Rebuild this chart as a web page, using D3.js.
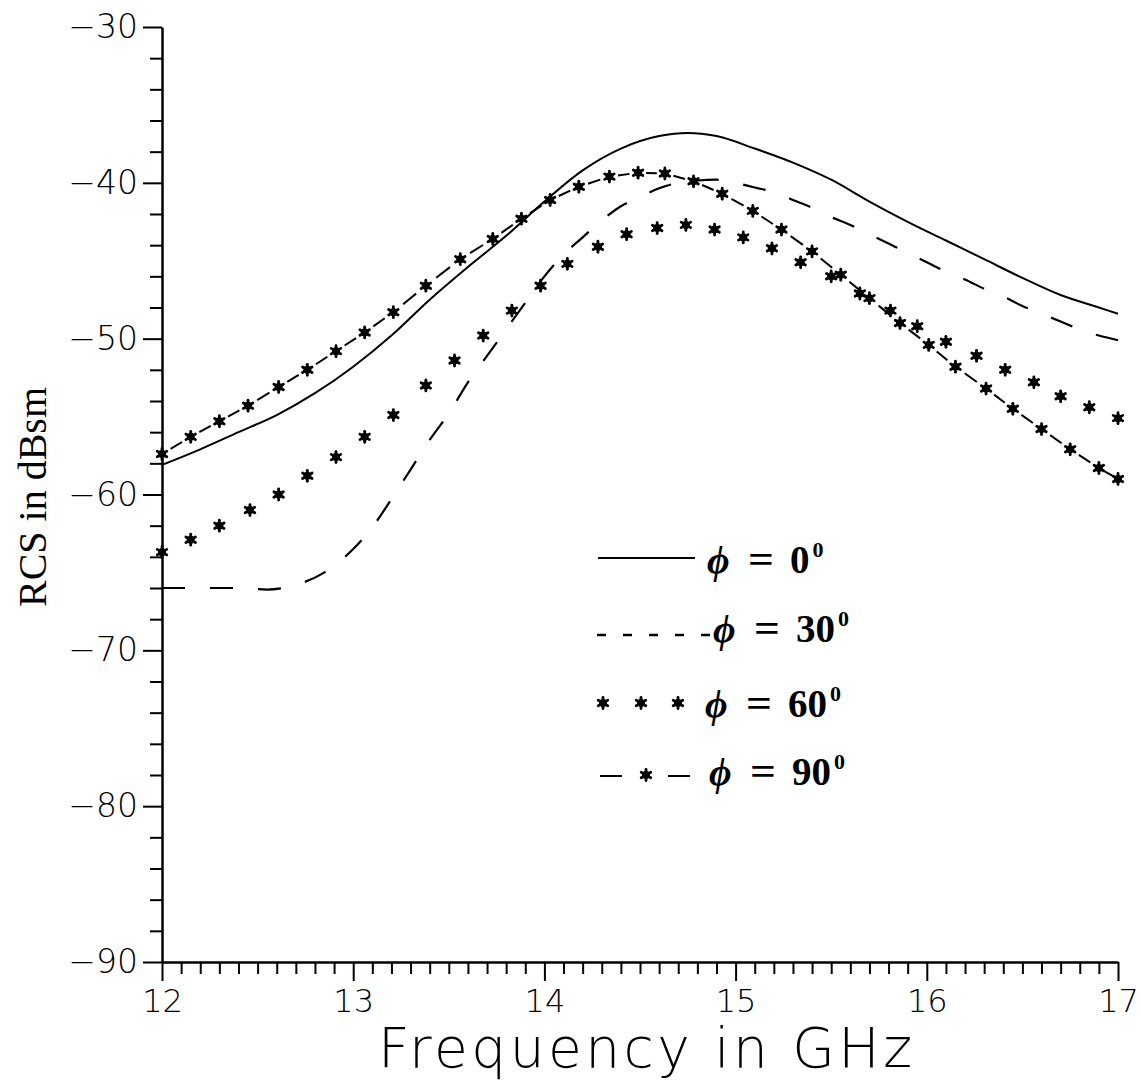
<!DOCTYPE html>
<html>
<head>
<meta charset="utf-8">
<script src="https://cdn.jsdelivr.net/npm/d3@7"></script>
<style>
  body { margin: 0; background: #fff; }
  svg { display: block; }
</style>
</head>
<body>
<script>
// ---------------- data ----------------
const yMajorTicks = [-90, -80, -70, -60, -50, -40, -30];
const xMajorTicks = [12, 13, 14, 15, 16, 17];
const xTitle = "Frequency in GHz";
const yTitle = "RCS in dBsm";

// phi = 0 (solid)
const freq0 = [12.0, 12.2, 12.4, 12.6, 12.8, 13.0, 13.2, 13.4, 13.6, 13.8, 14.0, 14.2, 14.4, 14.6, 14.75, 14.9, 15.1, 15.3, 15.5, 15.7, 15.9, 16.1, 16.3, 16.5, 16.7, 16.9, 17.0];
const rcs0  = [-58.1, -57.1, -56.0, -54.9, -53.5, -51.8, -49.8, -47.5, -45.4, -43.4, -41.2, -39.2, -37.8, -37.0, -36.8, -37.0, -37.8, -38.7, -39.8, -41.2, -42.5, -43.7, -44.9, -46.1, -47.2, -48.0, -48.4];

// phi = 30 (dashed)
const freq30 = [12.0, 12.2, 12.4, 12.55, 12.7, 12.85, 13.0, 13.1, 13.2, 13.3, 13.4, 13.5, 13.6, 13.7, 13.8, 13.9, 14.0, 14.1, 14.2, 14.3, 14.4, 14.5, 14.6, 14.7, 14.8, 14.9, 15.0, 15.1, 15.2, 15.3, 15.4, 15.5, 15.6, 15.7, 15.8, 15.9, 16.0, 16.1, 16.2, 16.3, 16.4, 16.5, 16.6, 16.7, 16.8, 16.9, 17.0];
const rcs30  = [-66.0, -66.0, -66.0, -66.1, -65.8, -65.0, -63.5, -62.1, -60.3, -58.4, -56.5, -54.8, -52.8, -51.1, -49.4, -47.7, -46.0, -44.6, -43.5, -42.4, -41.5, -40.9, -40.35, -40.0, -39.85, -39.8, -40.0, -40.3, -40.6, -41.1, -41.6, -42.2, -42.7, -43.3, -43.9, -44.5, -45.1, -45.7, -46.2, -46.8, -47.3, -47.9, -48.4, -48.9, -49.4, -49.8, -50.1];

// phi = 60 (stars)
const freq60 = [12.00, 12.15, 12.30, 12.46, 12.61, 12.76, 12.91, 13.06, 13.21, 13.38, 13.53, 13.68, 13.83, 13.98, 14.12, 14.28, 14.43, 14.59, 14.74, 14.89, 15.04, 15.19, 15.34, 15.50, 15.65, 15.81, 15.95, 16.10, 16.26, 16.41, 16.56, 16.70, 16.85, 17.00];
const rcs60  = [-63.7, -62.9, -62.0, -61.0, -60.0, -58.8, -57.6, -56.3, -54.9, -53.0, -51.4, -49.8, -48.2, -46.6, -45.2, -44.1, -43.3, -42.9, -42.7, -43.0, -43.5, -44.2, -45.1, -46.0, -47.1, -48.2, -49.2, -50.2, -51.1, -52.0, -52.8, -53.7, -54.4, -55.1];

// phi = 90 (dash - star)
const freq90 = [12.00, 12.15, 12.30, 12.45, 12.61, 12.76, 12.91, 13.06, 13.21, 13.38, 13.56, 13.73, 13.88, 14.03, 14.18, 14.34, 14.49, 14.63, 14.78, 14.93, 15.09, 15.24, 15.40, 15.55, 15.70, 15.86, 16.01, 16.15, 16.31, 16.45, 16.60, 16.75, 16.90, 17.00];
const rcs90  = [-57.4, -56.3, -55.3, -54.3, -53.1, -52.0, -50.8, -49.6, -48.3, -46.6, -44.9, -43.6, -42.3, -41.1, -40.25, -39.6, -39.35, -39.4, -39.9, -40.7, -41.8, -43.0, -44.4, -45.9, -47.4, -49.0, -50.4, -51.8, -53.2, -54.5, -55.8, -57.1, -58.3, -59.0];

const legendLabels = ["0", "30", "60", "90"];

// ---------------- drawing ----------------
const W = 1141, H = 1081;
const svg = d3.select("body").append("svg").attr("width", W).attr("height", H);

const x = d3.scaleLinear().domain([12, 17]).range([162, 1118]);
const y = d3.scaleLinear().domain([-90, -30]).range([962, 27]);

const tickFont = "'DejaVu Sans', sans-serif";

// minor ticks
const yMinor = d3.range(-88, -30, 2).filter(v => v % 10 !== 0);
const xMinor = d3.range(121, 170, 1).map(v => v / 10).filter(v => Math.abs(v - Math.round(v)) > 1e-6);

const gyMinor = svg.append("g").attr("transform", `translate(${x(12)},0)`)
  .call(d3.axisLeft(y).tickValues(yMinor).tickSize(12).tickFormat(""));
gyMinor.select(".domain").remove();
gyMinor.selectAll("line").attr("stroke-width", 2);

const gxMinor = svg.append("g").attr("transform", `translate(0,${y(-90)})`)
  .call(d3.axisBottom(x).tickValues(xMinor).tickSize(12).tickFormat(""));
gxMinor.select(".domain").remove();
gxMinor.selectAll("line").attr("stroke-width", 2);

// major axes
const gy = svg.append("g").attr("transform", `translate(${x(12)},0)`)
  .call(d3.axisLeft(y).tickValues(yMajorTicks).tickSize(19).tickSizeOuter(0).tickPadding(5).tickFormat(d3.format("d")));
gy.select(".domain").attr("stroke-width", 2.5);
gy.selectAll("line").attr("stroke-width", 2);
gy.selectAll("text").attr("font-family", tickFont).attr("font-weight", 300).attr("font-size", 33).attr("fill", "#000");

const gx = svg.append("g").attr("transform", `translate(0,${y(-90)})`)
  .call(d3.axisBottom(x).tickValues(xMajorTicks).tickSize(19).tickSizeOuter(0).tickPadding(8).tickFormat(d3.format("d")));
gx.select(".domain").attr("stroke-width", 2.5);
gx.selectAll("line").attr("stroke-width", 2);
gx.selectAll("text").attr("font-family", tickFont).attr("font-weight", 300).attr("font-size", 32).attr("fill", "#000");

// axis titles
svg.append("text")
  .attr("x", 378).attr("y", 1067)
  .attr("font-family", tickFont).attr("font-weight", 300).attr("font-size", 55)
  .attr("textLength", 534).attr("lengthAdjust", "spacing")
  .text(xTitle);

svg.append("text")
  .attr("transform", "translate(46,497) rotate(-90)")
  .attr("text-anchor", "middle")
  .attr("font-family", "'Liberation Serif', 'Times New Roman', serif")
  .attr("font-size", 40)
  .text(yTitle);

// series
const line = d3.line().x(d => x(d[0])).y(d => y(d[1])).curve(d3.curveMonotoneX);
const zip = (a, b) => a.map((v, i) => [v, b[i]]);

const plot = svg.append("g");

plot.append("path").datum(zip(freq0, rcs0))
  .attr("d", line).attr("fill", "none").attr("stroke", "#000").attr("stroke-width", 2);

plot.append("path").datum(zip(freq30, rcs30))
  .attr("d", line).attr("fill", "none").attr("stroke", "#000").attr("stroke-width", 2.2)
  .attr("stroke-dasharray", "23,25");

function star(g, cx, cy) {
  const r = 5.5;
  const s = g.append("g").attr("transform", `translate(${cx},${cy})`);
  s.append("circle").attr("r", 4).attr("fill", "#000");
  [90, 30, 150].forEach(a => {
    const rad = a * Math.PI / 180;
    s.append("line")
      .attr("x1", -r * Math.cos(rad)).attr("y1", -r * Math.sin(rad))
      .attr("x2", r * Math.cos(rad)).attr("y2", r * Math.sin(rad))
      .attr("stroke", "#000").attr("stroke-width", 2.8).attr("stroke-linecap", "round");
  });
}

// phi = 60 stars
zip(freq60, rcs60).forEach(d => star(plot, x(d[0]), y(d[1])));

// phi = 90 dash-star
const p90 = zip(freq90, rcs90);
p90.forEach((d, i) => {
  if (i < p90.length - 1) {
    const x0 = x(d[0]), y0 = y(d[1]), x1 = x(p90[i + 1][0]), y1 = y(p90[i + 1][1]);
    plot.append("line")
      .attr("x1", x0 + (x1 - x0) * 0.3).attr("y1", y0 + (y1 - y0) * 0.3)
      .attr("x2", x0 + (x1 - x0) * 0.7).attr("y2", y0 + (y1 - y0) * 0.7)
      .attr("stroke", "#000").attr("stroke-width", 2);
  }
  star(plot, x(d[0]), y(d[1]));
});

// legend
const leg = svg.append("g");
const rows = [
  { ly: 558, ty: 573, tx: 707 },
  { ly: 635, ty: 642, tx: 713 },
  { ly: 703, ty: 717, tx: 705 },
  { ly: 776, ty: 785, tx: 709 }
];
// row 0 solid
leg.append("line").attr("x1", 598).attr("x2", 695).attr("y1", rows[0].ly).attr("y2", rows[0].ly)
  .attr("stroke", "#000").attr("stroke-width", 2);
// row 1 dashed
leg.append("line").attr("x1", 597).attr("x2", 714).attr("y1", rows[1].ly).attr("y2", rows[1].ly)
  .attr("stroke", "#000").attr("stroke-width", 2.4).attr("stroke-dasharray", "9,17");
// row 2 stars
[603, 641, 678].forEach(cx => star(leg, cx, rows[2].ly));
// row 3 dash star dash
leg.append("line").attr("x1", 600).attr("x2", 622).attr("y1", rows[3].ly).attr("y2", rows[3].ly)
  .attr("stroke", "#000").attr("stroke-width", 2);
star(leg, 646, rows[3].ly - 1);
leg.append("line").attr("x1", 668).attr("x2", 690).attr("y1", rows[3].ly).attr("y2", rows[3].ly)
  .attr("stroke", "#000").attr("stroke-width", 2);

legendLabels.forEach((lab, i) => {
  const r = rows[i];
  const t = leg.append("text")
    .attr("y", r.ty)
    .attr("font-family", "'Liberation Serif', 'Times New Roman', serif")
    .attr("font-weight", "bold").attr("font-size", 39);
  t.append("tspan").attr("x", r.tx).attr("font-style", "italic").text("\u03D5");
  t.append("tspan").attr("x", r.tx + 41).attr("textLength", 26).attr("lengthAdjust", "spacingAndGlyphs").text("=");
  t.append("tspan").attr("x", r.tx + 83).text(lab);
  t.append("tspan").attr("dx", 3).attr("dy", -16).attr("font-size", 22).text("0");
});
</script>
</body>
</html>
